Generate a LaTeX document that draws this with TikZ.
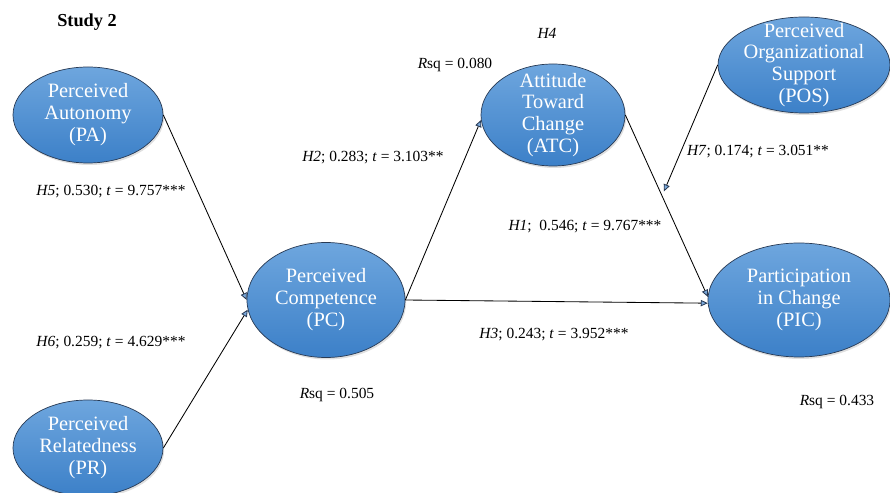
\documentclass[tikz,border=0pt]{standalone}
\usepackage{fontspec}
\setmainfont{Liberation Serif}
\usepackage{xcolor}
\definecolor{sdtblue}{RGB}{79, 141, 208}
\definecolor{sdttop}{RGB}{110, 166, 222}
\definecolor{sdtbottom}{RGB}{60, 128, 200}
\definecolor{sdtedge}{RGB}{40, 58, 84}
\usetikzlibrary{arrows.meta, shapes.geometric, shadows, calc}

\tikzset{
    construct/.style={ellipse, draw=sdtedge, line width=0.5pt, inner sep=0pt,
        top color=sdttop, bottom color=sdtbottom,
        drop shadow={opacity=0.25, shadow xshift=0.03cm, shadow yshift=-0.05cm}},
    ctext/.style={text=white, align=center, font=\fontsize{14.5}{15.6}\selectfont},
    coef/.style={font=\fontsize{11}{13}\selectfont},
    effect/.style={draw, line width=0.6pt,
        -{Triangle[length=5pt, width=4.5pt, color=sdtedge, fill=sdtblue!75]}}
}

\begin{document}
\begin{tikzpicture}
\useasboundingbox (0, 0) rectangle (22.25, 12.325);

% === Título ===
\node[font=\fontsize{13}{15}\selectfont\bfseries] (title) at (2.175, 11.775) {Study 2};

% === Constructos ===
\node[construct, minimum width=3.75cm, minimum height=2.4cm] (PA) at (2.2, 9.45) {};
\node[ctext] (PA-t) at (PA) {Perceived\\Autonomy\\(PA)};

\node[construct, minimum width=3.75cm, minimum height=2.4cm] (PR) at (2.2, 1.125) {};
\node[ctext] (PR-t) at (PR) {Perceived\\Relatedness\\(PR)};

\node[construct, minimum width=3.95cm, minimum height=2.875cm] (PC) at (8.15, 4.825) {};
\node[ctext] (PC-t) at (PC) {Perceived\\Competence\\(PC)};

\node[construct, minimum width=3.6cm, minimum height=2.55cm] (ATC) at (13.825, 9.45) {};
\node[ctext] (ATC-t) at (ATC) {Attitude\\Toward\\Change\\(ATC)};

\node[construct, minimum width=4.3cm, minimum height=2.4cm] (POS) at (20.1, 10.7) {};
\node[ctext] (POS-t) at (POS) {Perceived\\Organizational\\Support\\(POS)};

\node[construct, minimum width=4.55cm, minimum height=2.85cm] (PIC) at (19.975, 4.825) {};
\node[ctext] (PIC-t) at (PIC) {Participation\\in Change\\(PIC)};

% === Caminos ===
\draw[effect] (PA.east) -- (PC.west);
\draw[effect] (PR.east) -- (PC.187);
\draw[effect] (PC.east) -- (ATC.184);
\draw[effect] (PC.east) -- (PIC.182);
\draw[effect] (ATC.east) -- (PIC.178);

% Moderación (H7)
\coordinate (mod) at ($(ATC.east)!0.42!(PIC.178) + (0.1, 0)$);
\draw[effect] (POS.west) -- (mod);

% === Coeficientes ===
\node[coef] (h5) at (2.775, 7.525) {\textit{H5}; 0.530; \textit{t} = 9.757***};
\node[coef] (h6) at (2.775, 3.75) {\textit{H6}; 0.259; \textit{t} = 4.629***};
\node[coef] (h2) at (9.325, 8.375) {\textit{H2}; 0.283; \textit{t} = 3.103**};
\node[coef] (h4) at (13.675, 11.5) {\textit{H4}};
\node[coef] (h7) at (18.95, 8.525) {\textit{H7}; 0.174; \textit{t} = 3.051**};
\node[coef] (h1) at (14.625, 6.65) {\textit{H1};\ \ 0.546; \textit{t} = 9.767***};
\node[coef] (h3) at (13.85, 3.95) {\textit{H3}; 0.243; \textit{t} = 3.952***};

% R cuadrado
\node[coef] (rsq-atc) at (11.375, 10.7) {\textit{R}sq = 0.080};
\node[coef] (rsq-pc) at (8.425, 2.45) {\textit{R}sq = 0.505};
\node[coef] (rsq-pic) at (20.925, 2.275) {\textit{R}sq = 0.433};

\end{tikzpicture}
\end{document}
